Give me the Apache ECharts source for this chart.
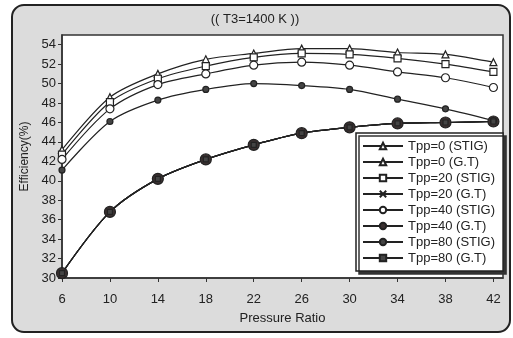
<!DOCTYPE html>
<html>
<head>
<meta charset="utf-8">
<script src="https://cdn.jsdelivr.net/npm/echarts@6/dist/echarts.min.js"></script>
<style>
  html, body { margin: 0; padding: 0; background: #fff; }
</style>
</head>
<body>
<div id="my-chart" style="width: 513px; height: 338px;"></div>
<script>
// pressure ratio (x) and efficiency (%)
const pressureRatio = [6, 10, 14, 18, 22, 26, 30, 34, 38, 42];
const tpp0Stig  = [43.2, 48.6, 51.0, 52.5, 53.1, 53.6, 53.6, 53.2, 53.0, 52.2];
const tpp20Stig = [42.7, 48.1, 50.5, 51.8, 52.7, 53.1, 53.0, 52.6, 52.0, 51.2];
const tpp40Stig = [42.2, 47.4, 49.9, 51.0, 51.9, 52.2, 51.9, 51.2, 50.6, 49.6];
const tpp80Stig = [41.1, 46.1, 48.3, 49.4, 50.0, 49.8, 49.4, 48.4, 47.4, 46.2];
// the four gas-turbine curves lie on top of each other
const gtEff     = [30.5, 36.8, 40.2, 42.2, 43.7, 44.9, 45.5, 45.9, 46.0, 46.1];
const yTicks = [30, 32, 34, 36, 38, 40, 42, 44, 46, 48, 50, 52, 54];

const FONT = '"Liberation Sans Narrow", "Liberation Sans", Arial, sans-serif';
const INK = "#222";

function pairs(ys) {
  return pressureRatio.map((x, i) => [x, ys[i]]);
}

function line(name, ys, symbol, size, fill, extra) {
  return Object.assign({
    name: name,
    type: "line",
    data: pairs(ys),
    smooth: 0.3,
    symbol: symbol,
    symbolSize: size,
    lineStyle: { color: INK, width: 1.2 },
    itemStyle: { color: fill, borderColor: INK, borderWidth: 1.2 },
  }, extra || {});
}

const crossPath = "path://M0,0L10,10M10,0L0,10";

const myChart = echarts.init(document.getElementById("my-chart"));
const option = {
  animation: false,
  textStyle: { fontFamily: FONT },
  title: {
    text: "(( T3=1400 K ))",
    left: 250,
    textAlign: "center",
    top: 8,
    textStyle: { fontFamily: FONT, fontSize: 13, fontWeight: "normal", color: INK },
  },
  graphic: [
    {
      type: "rect",
      z: -10,
      shape: { x: 12, y: 5, width: 498, height: 327, r: 12 },
      style: { fill: "#dcdcdc", stroke: INK, lineWidth: 2 },
    },
  ],
  grid: {
    left: 62,
    top: 35,
    right: 10,
    bottom: 60,
    show: true,
    backgroundColor: "#fff",
    borderColor: "#333",
    borderWidth: 1.5,
  },
  legend: {
    orient: "vertical",
    left: 356,
    top: 133,
    padding: [6, 8, 6, 6],
    itemWidth: 40,
    itemHeight: 8,
    itemGap: 2,
    backgroundColor: "#fff",
    borderColor: INK,
    borderWidth: 1.5,
    shadowColor: "#333",
    shadowOffsetX: 3,
    shadowOffsetY: 3,
    shadowBlur: 0,
    textStyle: { fontFamily: FONT, fontSize: 13, color: INK, lineHeight: 14 },
  },
  xAxis: {
    type: "value",
    min: 6,
    max: 42.8,
    interval: 4,
    name: "Pressure Ratio",
    nameLocation: "middle",
    nameGap: 34,
    nameTextStyle: { fontFamily: FONT, fontSize: 13, color: INK },
    axisLine: { lineStyle: { color: "#333", width: 1.5 } },
    axisTick: { show: true, length: 4, lineStyle: { color: "#333" } },
    axisLabel: { showMaxLabel: false, margin: 15, fontSize: 13, color: INK, fontFamily: FONT },
    splitLine: { show: false },
  },
  yAxis: {
    type: "value",
    min: yTicks[0],
    max: 55,
    interval: 2,
    name: "Efficiency(%)",
    nameLocation: "middle",
    nameGap: 31,
    nameTextStyle: { fontFamily: FONT, fontSize: 12, color: INK },
    axisLine: { show: true, lineStyle: { color: "#333", width: 1.5 } },
    axisTick: { show: true, length: 4, lineStyle: { color: "#333" } },
    axisLabel: {
      showMaxLabel: false,
      margin: 6,
      fontSize: 13,
      color: INK,
      fontFamily: FONT,
      formatter: (v) => (yTicks.indexOf(v) >= 0 ? String(v) : ""),
    },
    splitLine: { show: false },
  },
  series: [
    line("Tpp=0 (STIG)", tpp0Stig, "triangle", 7, "#fff"),
    line("Tpp=0 (G.T)", gtEff, "triangle", 7, "#fff"),
    line("Tpp=20 (STIG)", tpp20Stig, "rect", 7, "#fff"),
    line("Tpp=20 (G.T)", gtEff, crossPath, 7, "#fff"),
    line("Tpp=40 (STIG)", tpp40Stig, "circle", 8, "#fff"),
    line("Tpp=40 (G.T)", gtEff, "circle", 11, "#3a3030", { z: 3 }),
    line("Tpp=80 (STIG)", tpp80Stig, "circle", 6, "#444"),
    line("Tpp=80 (G.T)", gtEff, "rect", 5, "#444"),
  ],
};
myChart.setOption(option);
</script>
</body>
</html>
